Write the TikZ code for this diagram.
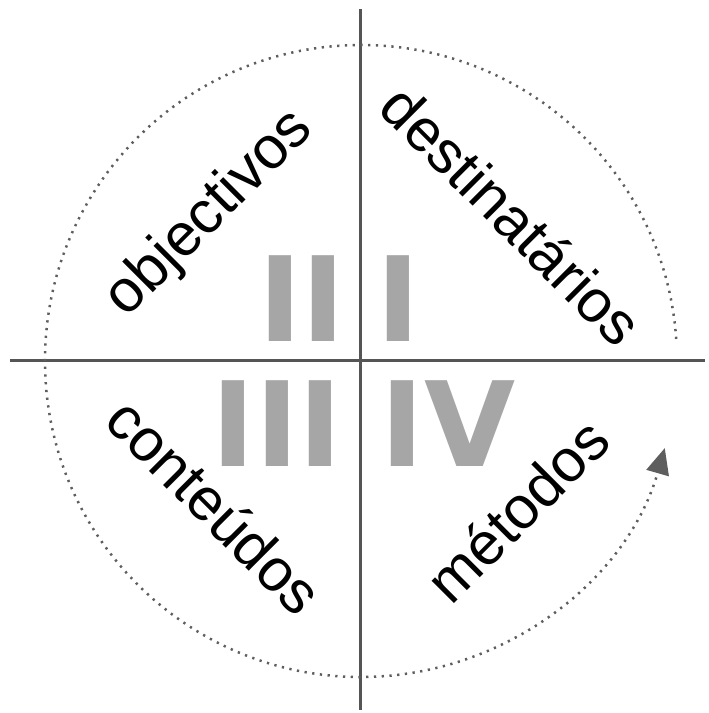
\documentclass[tikz,border=0pt]{standalone}
\usepackage{fontspec}
\setmainfont{Liberation Sans}
\newfontfamily\numeralfont{DejaVu Sans}
\usetikzlibrary{arrows.meta}
\definecolor{axis}{HTML}{555555}
\definecolor{numeral}{HTML}{A6A6A6}
\definecolor{cycle}{HTML}{5E5E5E}
\tikzset{
  axisline/.style = {draw=axis, line width=0.06cm},
  quadrant/.style = {font=\fontsize{34}{34}\selectfont, inner sep=0pt, text=black},
  numeral/.style  = {font=\numeralfont\bfseries\fontsize{67}{67}\selectfont,
                     text=numeral, inner sep=0pt},
  cycle/.style    = {draw=cycle, line width=0.05cm, dash pattern=on 0.045cm off 0.11cm,
                     -{Triangle[length=0.52cm, width=0.46cm]}},
}

\begin{document}
\begin{tikzpicture}
  \useasboundingbox (-7.22,-7.04) rectangle (6.94,7.22);

  % axes
  \coordinate (top) at (0,7.04);
  \coordinate (bottom) at (0,-6.98);
  \coordinate (left) at (-7.02,0);
  \coordinate (right) at (6.88,0);
  \draw[axisline] (top) -- (bottom);
  \draw[axisline] (left) -- (right);

  % dotted cycle
  \coordinate (start) at (4:6.32);
  \draw[cycle] (start) arc[start angle=4, end angle=344, radius=6.32];

  % roman numerals
  \node[numeral] (nII)  at (-1.18, 1.24) {II};
  \node[numeral] (nI)   at ( 0.74, 1.24) {I};
  \node[numeral] (nIII) at (-1.68,-1.26) {III};
  \node[numeral] (nIV)  at ( 1.74,-1.26) {IV};

  % quadrant labels
  \node[quadrant, rotate=45]  (obj)  at (-3.02, 2.94) {objectivos};
  \node[quadrant, rotate=-45] (dest) at ( 3.02, 2.92) {destinatários};
  \node[quadrant, rotate=-45] (cont) at (-2.92,-2.90) {conteúdos};
  \node[quadrant, rotate=45]  (met)  at ( 3.12,-2.98) {métodos};

\end{tikzpicture}
\end{document}
